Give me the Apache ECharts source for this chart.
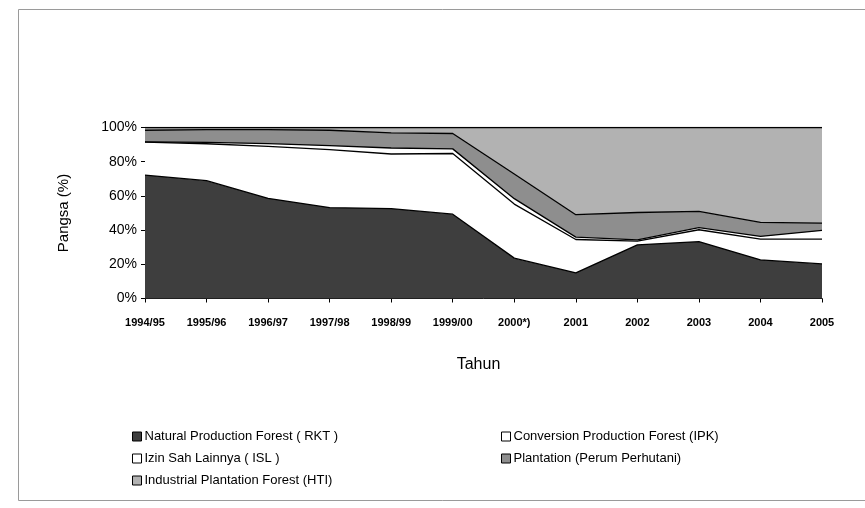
<!DOCTYPE html>
<html>
<head>
<meta charset="utf-8">
<script src="https://cdn.jsdelivr.net/npm/echarts@6/dist/echarts.min.js"></script>
<style>
html,body{margin:0;padding:0;background:#fff;}
#chart{width:865px;height:508px;}
</style>
</head>
<body>
<div id="chart"></div>
<script>
const categories = ['1994/95','1995/96','1996/97','1997/98','1998/99','1999/00','2000*)','2001','2002','2003','2004','2005'];
const rkt   = [72.2, 68.9, 58.6, 53.2, 52.6, 49.3, 23.6, 15.0, 31.4, 33.3, 22.6, 20.2];
const ipk   = [19.2, 21.6, 30.4, 33.9, 31.9, 35.5, 31.6, 19.5,  2.1,  6.9, 12.1, 14.5];
const isl   = [ 0.2,  0.8,  1.6,  2.3,  3.5,  2.7,  3.2,  1.4,  0.8,  1.3,  1.6,  5.1];
const plant = [ 6.8,  7.5,  8.1,  9.0,  8.8,  9.0, 14.4, 13.1, 16.0,  9.4,  8.2,  4.3];
const hti   = [ 1.6,  1.2,  1.3,  1.6,  3.2,  3.5, 27.2, 51.0, 49.7, 49.1, 55.5, 55.9];
const yTicks = [0, 20, 40, 60, 80, 100];

const names = {
  rkt: 'Natural Production Forest ( RKT )',
  ipk: 'Conversion Production Forest (IPK)',
  isl: 'Izin Sah Lainnya ( ISL )',
  plant: 'Plantation (Perum Perhutani)',
  hti: 'Industrial Plantation Forest (HTI)'
};
const colors = { rkt: '#3e3e3e', ipk: '#ffffff', isl: '#ffffff', plant: '#8e8e8e', hti: '#b2b2b2' };

function areaSeries(key, data) {
  return {
    name: names[key],
    type: 'line',
    stack: 'total',
    data: data,
    symbol: 'none',
    smooth: false,
    lineStyle: { color: '#000', width: 1.3 },
    itemStyle: { color: colors[key], borderColor: '#000', borderWidth: 1 },
    areaStyle: { color: colors[key], opacity: 1 },
    emphasis: { disabled: true },
    z: 2
  };
}

const font = 'Liberation Sans, Arial, sans-serif';
const legendItem = (key) => ({ name: names[key], itemStyle: { color: colors[key], borderColor: '#000', borderWidth: 1 } });

const chart = echarts.init(document.getElementById('chart'), null, { renderer: 'canvas' });
chart.setOption({
  animation: false,
  backgroundColor: '#fff',
  grid: { left: 145, right: 43, top: 127.5, bottom: 209.5, containLabel: false },
  xAxis: {
    type: 'category',
    data: categories,
    boundaryGap: false,
    name: 'Tahun',
    nameLocation: 'middle',
    nameGap: 58,
    nameTextStyle: { fontFamily: font, fontSize: 16, color: '#000', padding: [0, 10, 0, 0] },
    axisLine: { lineStyle: { color: '#000', width: 1 } },
    axisTick: { show: true, alignWithLabel: true, length: 4, lineStyle: { color: '#000' } },
    axisLabel: { interval: 0, fontFamily: font, fontSize: 11, fontWeight: 'bold', color: '#000', margin: 19 },
    splitLine: { show: false }
  },
  yAxis: {
    type: 'value',
    min: yTicks[0],
    max: yTicks[yTicks.length - 1],
    interval: 20,
    name: 'Pangsa (%)',
    nameLocation: 'middle',
    nameGap: 74,
    nameRotate: 90,
    nameTextStyle: { fontFamily: font, fontSize: 15, color: '#000' },
    axisLine: { show: true, lineStyle: { color: '#000', width: 1 } },
    axisTick: { show: true, length: 4, lineStyle: { color: '#000' } },
    axisLabel: { formatter: '{value}%', fontFamily: font, fontSize: 14, color: '#000', margin: 8 },
    splitLine: { show: false }
  },
  legend: [
    {
      orient: 'vertical', left: 127, top: 425, itemGap: 9,
      icon: 'rect', itemWidth: 9, itemHeight: 9,
      textStyle: { fontFamily: font, fontSize: 13, color: '#000', padding: [0, 0, 0, -2] },
      data: [legendItem('rkt'), legendItem('isl'), legendItem('hti')],
      selectedMode: false
    },
    {
      orient: 'vertical', left: 496, top: 425, itemGap: 9,
      icon: 'rect', itemWidth: 9, itemHeight: 9,
      textStyle: { fontFamily: font, fontSize: 13, color: '#000', padding: [0, 0, 0, -2] },
      data: [legendItem('ipk'), legendItem('plant')],
      selectedMode: false
    }
  ],
  graphic: [
    { type: 'rect', shape: { x: 18.5, y: 9.5, width: 870, height: 491 }, style: { fill: 'none', stroke: '#9a9a9a', lineWidth: 1 }, silent: true, z: -1 }
  ],
  series: [
    areaSeries('rkt', rkt),
    areaSeries('ipk', ipk),
    areaSeries('isl', isl),
    areaSeries('plant', plant),
    areaSeries('hti', hti)
  ]
});
</script>
</body>
</html>
